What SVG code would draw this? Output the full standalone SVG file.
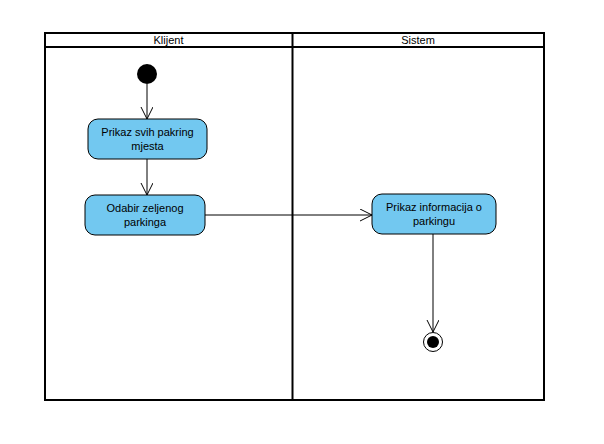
<svg xmlns="http://www.w3.org/2000/svg" width="604" height="444" viewBox="0 0 604 444">
<defs>
<style>
.lane{fill:none;stroke:#000;stroke-width:2}
.hdr{font-family:"Liberation Sans",Arial,sans-serif;font-size:11px;fill:#000;text-anchor:middle}
.act{fill:#72C8F0;stroke:#000;stroke-width:1}
.lbl{font-family:"Liberation Sans",Arial,sans-serif;font-size:11px;fill:#000;text-anchor:middle}
.conn{fill:none;stroke:#000;stroke-width:1}
</style>
<marker id="arr" markerWidth="14" markerHeight="14" refX="12" refY="6" orient="auto" markerUnits="userSpaceOnUse">
<path d="M0,0 L12,6 L0,12" fill="none" stroke="#000" stroke-width="1"/>
</marker>
</defs>
<rect x="0" y="0" width="604" height="444" fill="#fff"/>
<g id="swimlanes">
<rect class="lane" x="45" y="33" width="499" height="367"/>
<line class="lane" x1="45" y1="47" x2="544" y2="47"/>
<line class="lane" x1="292.5" y1="33" x2="292.5" y2="400"/>
<text class="hdr" x="168.5" y="44">Klijent</text>
<text class="hdr" x="418" y="44">Sistem</text>
</g>
<g id="connectors">
<line class="conn" x1="147" y1="84" x2="147" y2="119" marker-end="url(#arr)"/>
<line class="conn" x1="147" y1="159" x2="147" y2="195" marker-end="url(#arr)"/>
<line class="conn" x1="205" y1="215" x2="372" y2="215" marker-end="url(#arr)"/>
<line class="conn" x1="433" y1="234" x2="433" y2="332" marker-end="url(#arr)"/>
</g>
<g id="start">
<circle cx="147" cy="74" r="10" fill="#000"/>
</g>
<g id="node1">
<rect class="act" x="88" y="119" width="119" height="40" rx="10"/>
<text class="lbl" x="147.5" y="136">Prikaz svih pakring</text>
<text class="lbl" x="147.5" y="150">mjesta</text>
</g>
<g id="node2">
<rect class="act" x="85" y="195" width="120" height="40" rx="10"/>
<text class="lbl" x="145" y="212">Odabir zeljenog</text>
<text class="lbl" x="145" y="226">parkinga</text>
</g>
<g id="node3">
<rect class="act" x="372" y="194" width="124" height="40" rx="10"/>
<text class="lbl" x="434" y="211">Prikaz informacija o</text>
<text class="lbl" x="434" y="225">parkingu</text>
</g>
<g id="end">
<circle cx="433" cy="342" r="9.5" fill="#fff" stroke="#000" stroke-width="1"/>
<circle cx="433" cy="342" r="6" fill="#000"/>
</g>
</svg>
